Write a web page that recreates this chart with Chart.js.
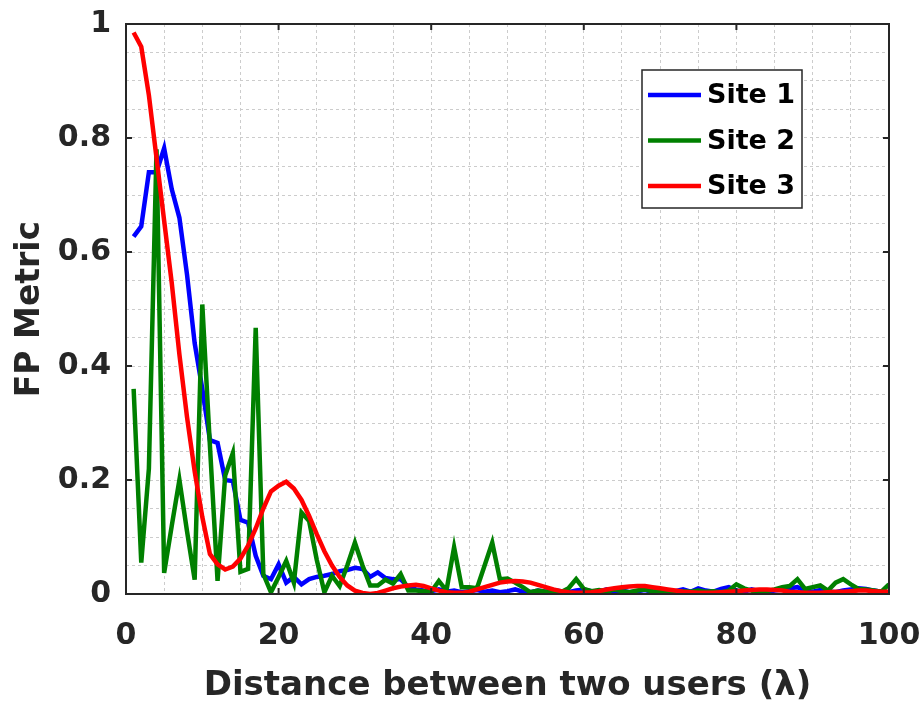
<!DOCTYPE html>
<html>
<head>
<meta charset="utf-8">
<script src="https://cdn.jsdelivr.net/npm/chart.js@4.4.1/dist/chart.umd.min.js"></script>
<style>
body{margin:0;background:#fff}
canvas{display:block}
</style>
</head>
<body>
<canvas id="chart" width="923" height="707"></canvas>
<script>

// distance between the two users, in wavelengths
let distance = [1,2,3,4,5,6,7,8,9,10,11,12,13,14,15,16,17,18,19,20,
21,22,23,24,25,26,27,28,29,30,31,32,33,34,35,36,37,38,39,40,
41,42,43,44,45,46,47,48,49,50,51,52,53,54,55,56,57,58,59,60,
61,62,63,64,65,66,67,68,69,70,71,72,73,74,75,76,77,78,79,80,
81,82,83,84,85,86,87,88,89,90,91,92,93,94,95,96,97,98,99,100]

let site1 = [0.627,0.645,0.74,0.74,0.782,0.71,0.66,0.56,0.44,0.36,
0.27,0.265,0.2,0.198,0.13,0.125,0.067,0.032,0.026,0.052,
0.02,0.03,0.017,0.026,0.03,0.032,0.035,0.04,0.042,0.046,
0.044,0.03,0.038,0.028,0.026,0.026,0.012,0.008,0.006,0.005,
0.008,0.004,0.006,0.003,0.005,0.007,0.004,0.006,0.003,0.005,
0.008,0.004,0.003,0.006,0.004,0.007,0.005,0.003,0.006,0.008,
0.005,0.004,0.008,0.004,0.006,0.003,0.005,0.007,0.004,0.006,
0.003,0.005,0.008,0.004,0.01,0.006,0.004,0.009,0.012,0.006,
0.004,0.008,0.005,0.003,0.006,0.008,0.01,0.012,0.006,0.004,
0.007,0.005,0.003,0.006,0.008,0.01,0.009,0.006,0.004,0.003]

let site2 = [0.36,0.055,0.22,0.78,0.037,0.12,0.2,0.11,0.025,0.508,
0.26,0.023,0.208,0.247,0.039,0.044,0.467,0.035,0.003,0.03,
0.058,0.02,0.143,0.128,0.06,0.003,0.032,0.014,0.05,0.09,
0.05,0.015,0.015,0.025,0.018,0.035,0.006,0.006,0.005,0.004,
0.023,0.006,0.082,0.012,0.012,0.01,0.05,0.09,0.026,0.027,
0.02,0.012,0.003,0.006,0.004,0.005,0.003,0.01,0.026,0.009,
0.005,0.007,0.004,0.008,0.005,0.003,0.006,0.008,0.005,0.004,
0.006,0.003,0.005,0.004,0.006,0.004,0.005,0.003,0.006,0.017,
0.01,0.006,0.001,0.005,0.008,0.012,0.014,0.026,0.009,0.012,
0.015,0.006,0.02,0.026,0.017,0.009,0.008,0.006,0.004,0.017]

let site3 = [0.985,0.96,0.875,0.765,0.655,0.545,0.42,0.31,0.215,0.135,
0.07,0.052,0.043,0.048,0.062,0.085,0.115,0.15,0.18,0.19,
0.197,0.185,0.165,0.137,0.105,0.075,0.05,0.03,0.015,0.006,
0.002,0,0.002,0.006,0.01,0.013,0.015,0.016,0.014,0.01,
0.006,0.003,0.002,0.002,0.004,0.008,0.012,0.016,0.02,0.022,
0.023,0.022,0.02,0.016,0.012,0.008,0.005,0.003,0.002,0.002,
0.003,0.005,0.008,0.01,0.012,0.013,0.014,0.014,0.012,0.01,
0.008,0.006,0.004,0.003,0.002,0.002,0.002,0.003,0.004,0.005,
0.006,0.007,0.008,0.008,0.007,0.006,0.004,0.003,0.002,0.002,
0.002,0.003,0.004,0.004,0.005,0.006,0.006,0.005,0.004,0.004]

let siteNames = ["Site 1","Site 2","Site 3"]
let siteColors = ["#0000ff","#008000","#ff0000"]

let xMajor = [0,20,40,60,80,100]
let yMajor = [0,0.2,0.4,0.6,0.8,1]

let axisColor = "#262626"
let font = "DejaVu Sans"

function points(values){
return values.map((v,i)=>({x:distance[i],y:v}))
}

let frame = {
id:"frame",
beforeDraw(chart){
let c = chart.ctx
c.save()
c.fillStyle="#fff"
c.fillRect(0,0,chart.width,chart.height)
c.restore()
},
afterDatasetsDraw(chart){
let c = chart.ctx
let a = chart.chartArea
let xs = chart.scales.x
let ys = chart.scales.y
c.save()
c.strokeStyle=axisColor
c.lineWidth=2
c.strokeRect(a.left,a.top,a.right-a.left,a.bottom-a.top)
c.beginPath()
xMajor.forEach(v=>{
let px = xs.getPixelForValue(v)
c.moveTo(px,a.bottom); c.lineTo(px,a.bottom-6)
c.moveTo(px,a.top); c.lineTo(px,a.top+6)
})
yMajor.forEach(v=>{
let py = ys.getPixelForValue(v)
c.moveTo(a.left,py); c.lineTo(a.left+6,py)
c.moveTo(a.right,py); c.lineTo(a.right-6,py)
})
c.stroke()

// legend box inside the plot
let bx = a.left+516, by = a.top+46, bw = 160, bh = 138
c.fillStyle="#fff"
c.fillRect(bx,by,bw,bh)
c.lineWidth=1.5
c.strokeRect(bx,by,bw,bh)
c.font="bold 27px "+font
c.textBaseline="middle"
c.textAlign="left"
chart.data.datasets.forEach((d,i)=>{
let ly = by+25+i*45.5
c.strokeStyle=d.borderColor
c.lineWidth=4.5
c.beginPath()
c.moveTo(bx+6,ly); c.lineTo(bx+59,ly)
c.stroke()
c.fillStyle="#000"
c.fillText(d.label,bx+65,ly+1)
})
c.restore()
}
}

let tickFont = {family:font,weight:"bold",size:30}

new Chart(document.getElementById("chart"),{
type:"line",
data:{
datasets:[
{label:siteNames[0],data:points(site1),borderColor:siteColors[0],order:2},
{label:siteNames[1],data:points(site2),borderColor:siteColors[1],order:1},
{label:siteNames[2],data:points(site3),borderColor:siteColors[2],order:0}
]
},
options:{
responsive:false,
animation:false,
layout:{padding:{left:0,right:34,top:24,bottom:0}},
elements:{
line:{borderWidth:4.5,tension:0,fill:false},
point:{radius:0}
},
plugins:{legend:{display:false},tooltip:{enabled:false}},
scales:{
x:{
type:"linear",
min:0,max:100,
grid:{color:"#cccccc",lineWidth:1,drawTicks:false},
border:{display:false,dash:[3,3]},
ticks:{
stepSize:5,autoSkip:false,maxRotation:0,padding:24,
color:axisColor,font:tickFont,
callback:v=>v%20==0 ? v : ""
},
title:{display:true,text:"Distance between two users (λ)",color:axisColor,
font:{family:font,weight:"bold",size:34},padding:{top:0,bottom:0}},
afterFit(s){ s.height=113; s.paddingLeft=0; s.paddingRight=0 }
},
y:{
min:0,max:1,
grid:{color:"#cccccc",lineWidth:1,drawTicks:false},
border:{display:false,dash:[3,3]},
ticks:{
stepSize:0.05,autoSkip:false,padding:15,
color:axisColor,font:tickFont,
callback:v=>Math.abs(v*5-Math.round(v*5))<1e-6 ? String(+v.toFixed(1)) : ""
},
title:{display:true,text:"FP Metric",color:axisColor,
font:{family:font,weight:"bold",size:33},padding:{top:11,bottom:0}},
afterFit(s){ s.width=126; s.paddingTop=0; s.paddingBottom=0 }
}
}
},
plugins:[frame]
})

</script>
</body>
</html>
